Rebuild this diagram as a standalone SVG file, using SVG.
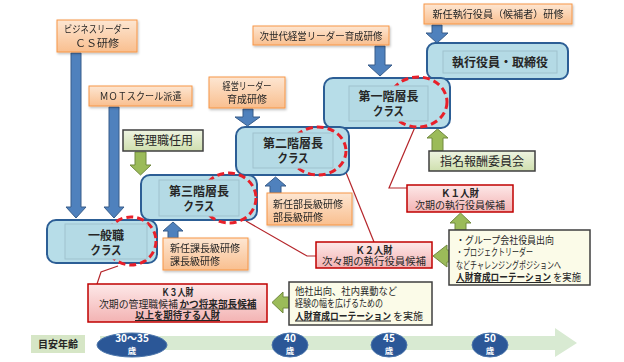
<svg xmlns="http://www.w3.org/2000/svg" width="624" height="362" viewBox="0 0 624 362">
<defs>
<linearGradient id="gOr" x1="0" y1="0" x2="0" y2="1"><stop offset="0" stop-color="#fde6d2"/><stop offset="1" stop-color="#f9bf8f"/></linearGradient>
<linearGradient id="gRd" x1="0" y1="0" x2="0" y2="1"><stop offset="0" stop-color="#fde8e8"/><stop offset="1" stop-color="#f3b3b3"/></linearGradient>
<linearGradient id="gGr" x1="0" y1="0" x2="0" y2="1"><stop offset="0" stop-color="#eef4e2"/><stop offset="1" stop-color="#cfdfae"/></linearGradient>
<filter id="sh" x="-10%" y="-10%" width="130%" height="140%"><feDropShadow dx="1" dy="1.5" stdDeviation="1" flood-color="#000" flood-opacity="0.25"/></filter>
</defs>
<style>
text{font-family:"Noto Sans CJK JP","Noto Sans",sans-serif;fill:#262626}
.or{fill:url(#gOr);stroke:#f79646;stroke-width:1}
.rd{fill:url(#gRd);stroke:#c00000;stroke-width:1.5}
.gr{fill:url(#gGr);stroke:#3f3f3f;stroke-width:1.5}
.yl{fill:#fbfbe8;stroke:#3f3f3f;stroke-width:1.5}
.cls{fill:#b7dde8;stroke:#2c5e95;stroke-width:2}
.inn{fill:#b4dae5;stroke:#9fc2cd;stroke-width:1}
.dash{fill:none;stroke:#e8202a;stroke-width:3;stroke-dasharray:7 4}
.ba{fill:#4f81bd;stroke:#385d8a;stroke-width:1}
.ga{fill:#9bbb59;stroke:#71893f;stroke-width:1}
.ln{fill:none;stroke:#b5262b;stroke-width:1.2}
.t10{font-size:10px}
.t12{font-size:12px}
.b{font-weight:bold}
.u{text-decoration:underline}
.c{text-anchor:middle}
.age{fill:#2b5797;stroke:#4c76ab;stroke-width:1}
.at{fill:#ffffff;font-weight:bold;text-anchor:middle}
</style>

<!-- timeline -->
<g id="timeline">
<polygon points="100,336 555,336 555,328 577,343 555,357 555,350 100,350" fill="#d8ead2"/>
<rect x="31" y="335" width="54" height="18" fill="#d6e6c6"/>
<text x="58" y="348" class="t10 b c">目安年齢</text>
<ellipse class="age" cx="132" cy="345" rx="35" ry="12"/>
<text x="132" y="342" class="at" font-size="10">30～35</text>
<text x="132" y="354" class="at" font-size="8.5">歳</text>
<ellipse class="age" cx="290" cy="345" rx="18" ry="12"/>
<text x="290" y="342" class="at" font-size="10">40</text>
<text x="290" y="354" class="at" font-size="8.5">歳</text>
<ellipse class="age" cx="389" cy="345" rx="18" ry="12"/>
<text x="389" y="342" class="at" font-size="10">45</text>
<text x="389" y="354" class="at" font-size="8.5">歳</text>
<ellipse class="age" cx="490" cy="345" rx="18" ry="12"/>
<text x="490" y="342" class="at" font-size="10">50</text>
<text x="490" y="354" class="at" font-size="8.5">歳</text>
</g>

<!-- connectors -->
<g id="connectors">
<path class="ba" d="M71,53 H81 V207 H86 L76,218 L66,207 H71 Z"/>
<path class="ba" d="M109,107 H119 V207 H124 L114,218 L104,207 H109 Z"/>
<path class="ba" d="M243,109 H253 V117 H260 L247.5,126 L235,117 H243 Z"/>
<path class="ba" d="M375,46 H385 V65 H392 L380,76 L368,65 H375 Z"/>
<path class="ba" d="M432,25 H442 V33 H448 L437,43 L426,33 H432 Z"/>
<path class="ba" d="M168,238 H178 V231 H183 L173,222 L163,231 H168 Z"/>
<path class="ba" d="M270,193 H281 V186 H286 L275.5,177 L265,186 H270 Z"/>
<path class="ga" d="M432,151 H443 V138 H448 L437.5,129 L427,138 H432 Z"/>
<path class="ga" d="M455,230 H466 V223 H471 L460.5,213 L450,223 H455 Z"/>
<path class="ga" d="M135,152 H146 V165 H151 L140.5,175 L130,165 H135 Z"/>
<path class="ga" d="M449,250 H447 V245 L433,256 L447,267 V262 H449 Z"/>
<path class="ga" d="M289,297 H283 V292 L272,302.5 L283,313 V308 H289 Z"/>
<polyline class="ln" points="118,266 101,272 97,284"/>
<polyline class="ln" points="246,221 307,256 316,256"/>
<polyline class="ln" points="343,165 374,242"/>
<polyline class="ln" points="415,127 389,188 407,188"/>
</g>

<!-- training boxes -->
<g id="biz" filter="url(#sh)">
<rect class="or" x="57" y="20" width="80" height="32"/>
<text x="97" y="33" class="t10 c" textLength="66" lengthAdjust="spacingAndGlyphs">ビジネスリーダー</text>
<text x="97" y="47" class="t10 c" textLength="44" lengthAdjust="spacingAndGlyphs">ＣＳ研修</text>
</g>
<g id="mot" filter="url(#sh)">
<rect class="or" x="89" y="86" width="103" height="20"/>
<text x="140.5" y="100" class="t10 c" textLength="82" lengthAdjust="spacingAndGlyphs">ＭＯＴスクール派遣</text>
</g>
<g id="kanri">
<rect class="gr" x="123" y="130" width="80" height="21"/>
<text x="163" y="145" class="t12 c">管理職任用</text>
</g>
<g id="jisedai" filter="url(#sh)">
<rect class="or" x="253" y="26" width="136" height="19"/>
<text x="321" y="39.5" class="t10 c" textLength="123" lengthAdjust="spacingAndGlyphs">次世代経営リーダー育成研修</text>
</g>
<g id="keiei" filter="url(#sh)">
<rect class="or" x="209" y="77" width="76" height="31"/>
<text x="247" y="90" class="t10 c" textLength="49" lengthAdjust="spacingAndGlyphs">経営リーダー</text>
<text x="247" y="103" class="t10 c">育成研修</text>
</g>
<g id="shinnin-yakuin" filter="url(#sh)">
<rect class="or" x="424" y="4" width="148" height="20"/>
<text x="498" y="18" class="t10 c" textLength="131" lengthAdjust="spacingAndGlyphs">新任執行役員（候補者）研修</text>
</g>
<g id="kachou" filter="url(#sh)">
<rect class="or" x="163" y="238" width="85" height="32"/>
<text x="170" y="252" class="t10">新任課長級研修</text>
<text x="170" y="265" class="t10">課長級研修</text>
</g>
<g id="buchou" filter="url(#sh)">
<rect class="or" x="267" y="193" width="85" height="32"/>
<text x="273" y="207.5" class="t10">新任部長級研修</text>
<text x="273" y="220.5" class="t10">部長級研修</text>
</g>
<g id="shimei">
<rect class="gr" x="429" y="151" width="106" height="20"/>
<text x="482" y="165.5" class="t12 c">指名報酬委員会</text>
</g>

<!-- class nodes -->
<g id="exec">
<rect class="cls" x="427" y="43" width="141" height="36" rx="8"/>
<rect class="inn" x="443" y="51" width="114" height="22"/>
<text x="500" y="66.5" class="t12 b c">執行役員・取締役</text>
</g>
<g id="dai1">
<rect class="cls" x="324" y="78" width="126" height="50" rx="9"/>
<ellipse class="dash" cx="418" cy="102" rx="29" ry="25"/>
<rect class="inn" x="349" y="86" width="79" height="35"/>
<text x="388.5" y="100.5" class="t12 b c">第一階層長</text>
<text x="388.5" y="115.5" class="t12 b c" textLength="31" lengthAdjust="spacingAndGlyphs">クラス</text>
</g>
<g id="dai2">
<rect class="cls" x="236" y="127" width="113" height="48" rx="9"/>
<ellipse class="dash" cx="318" cy="151" rx="28" ry="24"/>
<rect class="inn" x="253" y="133" width="80" height="35"/>
<text x="293" y="148" class="t12 b c">第二階層長</text>
<text x="293" y="163" class="t12 b c" textLength="31" lengthAdjust="spacingAndGlyphs">クラス</text>
</g>
<g id="dai3">
<rect class="cls" x="141" y="175" width="116" height="45" rx="9"/>
<ellipse class="dash" cx="229" cy="198" rx="27" ry="25"/>
<rect class="inn" x="159" y="180" width="80" height="36"/>
<text x="199" y="195.5" class="t12 b c">第三階層長</text>
<text x="199" y="210.5" class="t12 b c" textLength="31" lengthAdjust="spacingAndGlyphs">クラス</text>
</g>
<g id="ippan">
<rect class="cls" x="47" y="220" width="110" height="43" rx="9"/>
<ellipse class="dash" cx="131" cy="241" rx="25" ry="24"/>
<rect class="inn" x="65" y="224" width="82" height="35"/>
<text x="106" y="240" class="t12 b c">一般職</text>
<text x="106" y="255" class="t12 b c" textLength="31" lengthAdjust="spacingAndGlyphs">クラス</text>
</g>

<!-- talent boxes -->
<g id="k1">
<rect class="rd" x="407" y="185" width="106" height="27"/>
<text x="460" y="197" class="t10 b c" textLength="38" lengthAdjust="spacingAndGlyphs">Ｋ１人財</text>
<text x="460" y="208.5" class="t10 c" textLength="90" lengthAdjust="spacingAndGlyphs">次期の執行役員候補</text>
</g>
<g id="k2">
<rect class="rd" x="316" y="242" width="116" height="26"/>
<text x="374" y="253.5" class="t10 b c" textLength="37" lengthAdjust="spacingAndGlyphs">Ｋ２人財</text>
<text x="374" y="264.5" class="t10 c" textLength="104" lengthAdjust="spacingAndGlyphs">次々期の執行役員候補</text>
</g>
<g id="k3">
<rect class="rd" x="88" y="284" width="179" height="38"/>
<text x="177.5" y="296" class="t10 b c" textLength="32" lengthAdjust="spacingAndGlyphs">Ｋ３人財</text>
<text x="99" y="307.5" class="t10" textLength="79" lengthAdjust="spacingAndGlyphs">次期の管理職候補</text>
<text x="179.5" y="307.5" class="t10 b u" textLength="77" lengthAdjust="spacingAndGlyphs">かつ将来部長候補</text>
<text x="177.5" y="319" class="t10 b u c" textLength="85" lengthAdjust="spacingAndGlyphs">以上を期待する人財</text>
</g>
<g id="rot1">
<rect class="yl" x="449" y="230" width="141" height="55"/>
<text x="456" y="244" class="t10" textLength="98" lengthAdjust="spacingAndGlyphs">・グループ会社役員出向</text>
<text x="456" y="256" class="t10" textLength="77" lengthAdjust="spacingAndGlyphs">・プロジェクトリーダー</text>
<text x="456" y="268.5" class="t10" textLength="105" lengthAdjust="spacingAndGlyphs">などチャレンジングポジションへ</text>
<text x="456" y="281" class="t10 b u" textLength="95" lengthAdjust="spacingAndGlyphs">人財育成ローテーション</text>
<text x="553" y="281" class="t10" textLength="28" lengthAdjust="spacingAndGlyphs">を実施</text>
</g>
<g id="rot2">
<rect class="yl" x="289" y="282" width="143" height="43"/>
<text x="295" y="295" class="t10" textLength="102" lengthAdjust="spacingAndGlyphs">他社出向、社内異動など</text>
<text x="295" y="307" class="t10" textLength="88" lengthAdjust="spacingAndGlyphs">経験の幅を広げるための</text>
<text x="295" y="319.5" class="t10 b u" textLength="96" lengthAdjust="spacingAndGlyphs">人財育成ローテーション</text>
<text x="393" y="319.5" class="t10" textLength="30" lengthAdjust="spacingAndGlyphs">を実施</text>
</g>
</svg>
